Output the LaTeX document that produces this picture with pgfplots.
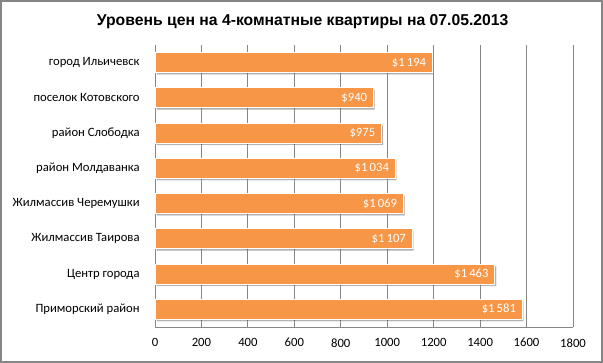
\documentclass[border=0pt]{standalone}
\usepackage{pgfplots}
\pgfplotsset{compat=1.18}
\usepackage{fontspec}
\setmainfont{Carlito}
\newfontfamily\titlefont{Liberation Sans}
\usetikzlibrary{shadows}
\definecolor{barorange}{HTML}{F79646}
\definecolor{gridgray}{HTML}{868686}
\begin{document}
\begin{tikzpicture}
\path[use as bounding box] (0pt,0pt) rectangle (452.25pt,272.25pt);
\draw[gridgray,line width=0.8pt] (0.75pt,0.75pt) rectangle (451.5pt,271.5pt);
\node[font=\titlefont\bfseries\fontsize{11.8}{14}\selectfont] at (227pt,256pt) {Уровень цен на 4-комнатные квартиры на 07.05.2013};
\begin{axis}[
  at={(116.25pt,27pt)}, anchor=south west,
  scale only axis, width=313.5pt, height=211.5pt,
  xmin=0, xmax=1800, ymin=-0.5, ymax=7.5,
  y dir=reverse,
  xtick={0,200,...,1800},
  ytick={0,...,7},
  yticklabels={город Ильичевск,поселок Котовского,район Слободка,район Молдаванка,Жилмассив Черемушки,Жилмассив Таирова,Центр города,Приморский район},
  axis x line*=bottom, axis y line*=left,
  axis line style={gridgray,-},
  xmajorgrids, major grid style={gridgray,line width=0.6pt},
  major tick length=0pt,
  ticklabel style={font=\fontsize{9.5}{11}\selectfont},
  /pgf/number format/assume math mode=true,
  /pgf/number format/1000 sep={},
  xticklabel style={yshift=-5pt},
  yticklabel style={xshift=-8pt},
  xbar, bar width=15pt,
  nodes near coords={\$\pgfmathprintnumber[1000 sep={\,},assume math mode=true]{\pgfplotspointmeta}},
  every node near coord/.append style={anchor=east, white, font=\fontsize{9.5}{11}\selectfont, xshift=-1pt},
]
\addplot[fill=barorange, draw=white, line width=0.6pt,
  drop shadow={shadow xshift=1.2pt, shadow yshift=-1.5pt, fill=black, opacity=0.3}]
  coordinates {(1194,0) (940,1) (975,2) (1034,3) (1069,4) (1107,5) (1463,6) (1581,7)};
\end{axis}
\end{tikzpicture}
\end{document}
